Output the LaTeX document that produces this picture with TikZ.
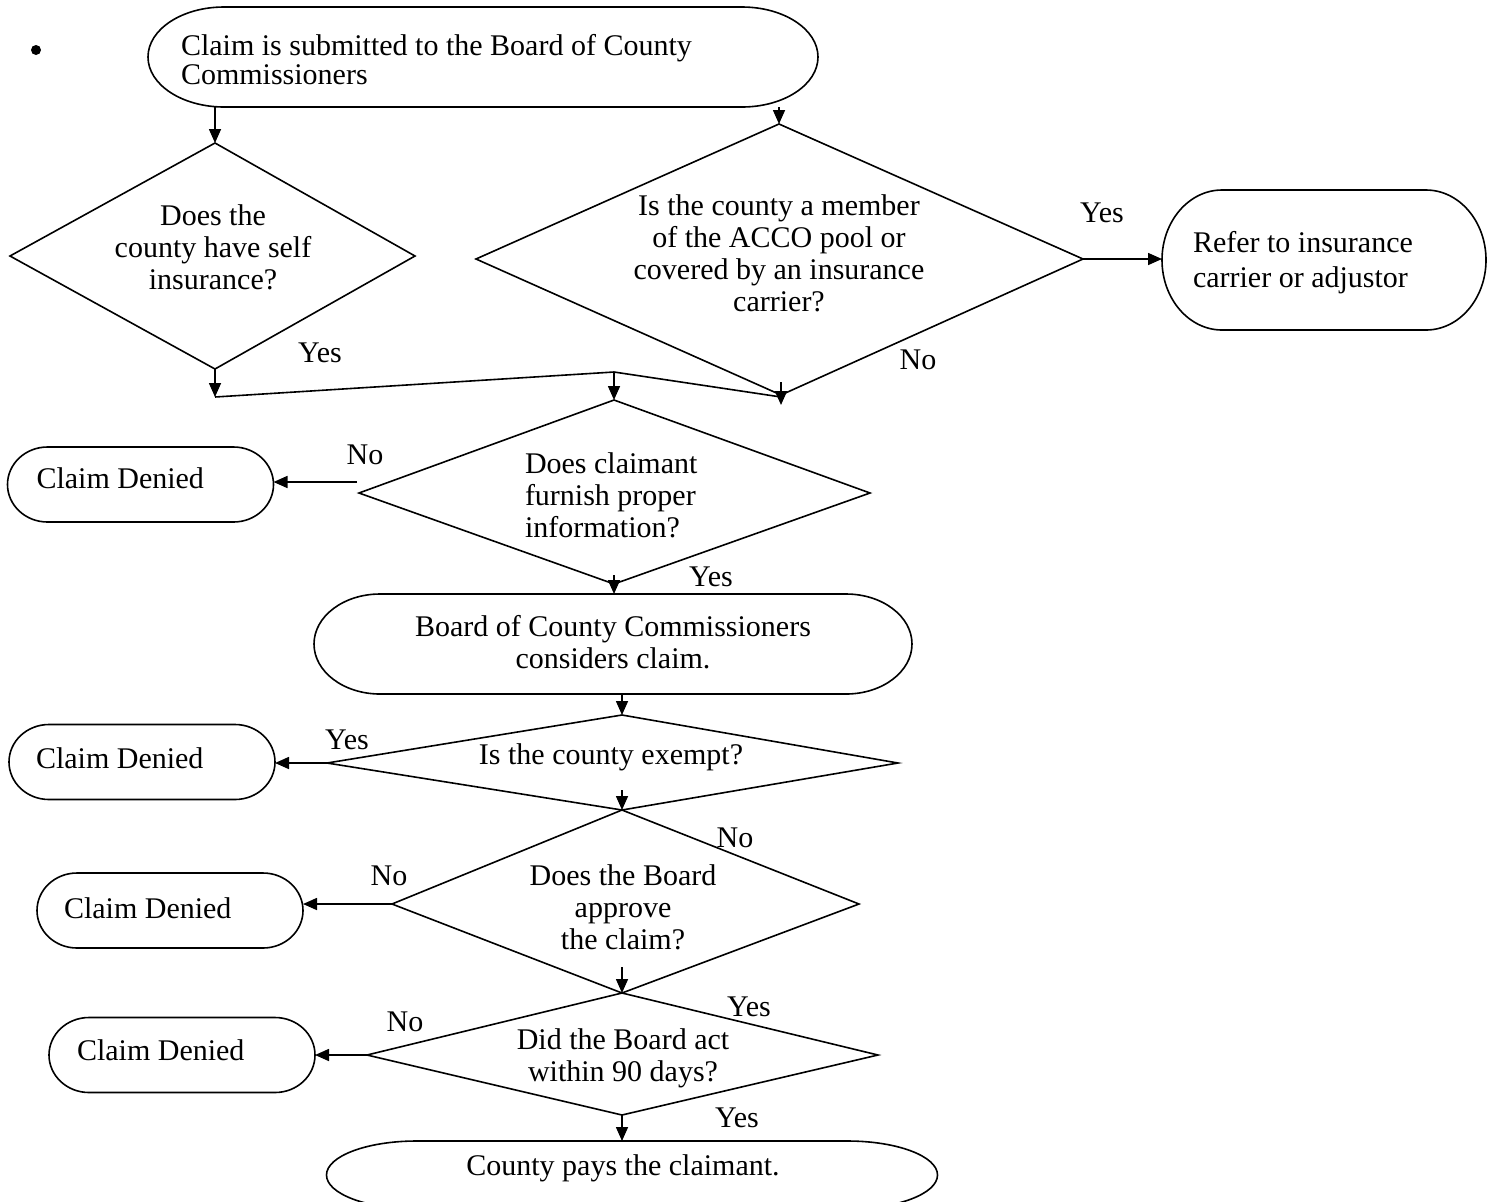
\documentclass[tikz,border=0pt]{standalone}
\usepackage{fontspec}
\setmainfont{Liberation Serif}
\usetikzlibrary{arrows.meta}
\newcommand\termoutline[3]{\draw ([xshift=-#2]#1.north east) arc[start angle=90,end angle=-90,x radius=#2,y radius=#3] -- ([xshift=#2]#1.south west) arc[start angle=270,end angle=90,x radius=#2,y radius=#3] -- cycle;}
\begin{document}
\begin{tikzpicture}[x=0.5pt,y=-0.5pt,line width=0.8pt,
  every node/.style={font=\fontsize{15}{16}\selectfont,inner sep=0pt,outer sep=0pt},
  tight/.style={font=\fontsize{15}{14.5}\selectfont},
  arr/.style={-{Triangle[length=7pt,width=6pt]}},
  cdbox/.style={minimum width=133pt,minimum height=37.5pt},
  lbl/.style={}]
\useasboundingbox (0,0) rectangle (1489,1201);
\clip (0,0) rectangle (1489,1201);
\fill[white] (0,0) rectangle (1489,1201);

% bullet
\fill (36,50) circle[radius=2.5pt];

% terminators
\node[minimum width=335pt,minimum height=50pt] (t0) at (483,57) {};
\termoutline{t0}{38pt}{25pt}
\node[tight,anchor=west,align=left] (t0txt) at (181,60) {Claim is submitted to the Board of County\\Commissioners};

\node[minimum width=162pt,minimum height=70pt] (refer) at (1324,260) {};
\termoutline{refer}{30pt}{35pt}
\node[anchor=west,align=left,font=\fontsize{15}{17.5}\selectfont] (refertxt) at ([xshift=15.5pt,yshift=-1.2pt]refer.west) {Refer to insurance\\carrier or adjustor};

\node[minimum width=299pt,minimum height=50pt] (board) at (613,644) {};
\termoutline{board}{33pt}{25pt}
\node[align=center] (boardtxt) at (613,642) {Board of County Commissioners\\considers claim.};

\node[cdbox] (cd1) at (140.5,484.5) {};
\termoutline{cd1}{20pt}{18.75pt}
\node[anchor=west] (cd1txt) at ([xshift=14.5pt,yshift=3pt]cd1.west) {Claim Denied};
\node[cdbox] (cd2) at (142,762) {};
\termoutline{cd2}{20pt}{18.75pt}
\node[anchor=west] (cd2txt) at ([xshift=13.5pt,yshift=2pt]cd2.west) {Claim Denied};
\node[cdbox] (cd3) at (170,910.5) {};
\termoutline{cd3}{20pt}{18.75pt}
\node[anchor=west] (cd3txt) at ([xshift=13.5pt,yshift=1.2pt]cd3.west) {Claim Denied};
\node[cdbox] (cd4) at (182,1055) {};
\termoutline{cd4}{20pt}{18.75pt}
\node[anchor=west] (cd4txt) at ([xshift=14pt,yshift=2.5pt]cd4.west) {Claim Denied};

\node[minimum width=305.5pt,minimum height=34pt] (pay) at (632,1175) {};
\termoutline{pay}{45pt}{17pt}
\node (paytxt) at (623,1168) {County pays the claimant.};

% diamond 1
\coordinate (d1t) at (215,143); \coordinate (d1l) at (10,256);
\coordinate (d1r) at (415,256); \coordinate (d1b) at (215,369);
\draw (d1t) -- (d1r) -- (d1b) -- (d1l) -- cycle;
\node[align=center] (d1) at (213,247) {Does the\\county have self\\insurance?};

% diamond 2
\coordinate (d2t) at (779,124); \coordinate (d2l) at (476,259);
\coordinate (d2r) at (1083,259); \coordinate (d2b) at (781,395);
\draw (d2t) -- (d2r) -- (d2b) -- (d2l) -- cycle;
\node[align=center] (d2) at (779,253) {Is the county a member\\of the ACCO pool or\\covered by an insurance\\carrier?};

% diamond 3
\coordinate (d3t) at (614,400); \coordinate (d3l) at (359,493);
\coordinate (d3r) at (870,493); \coordinate (d3b) at (614,584);
\draw (d3t) -- (d3r) -- (d3b) -- (d3l) -- cycle;
\node[align=left,anchor=west] (d3) at (525,495) {Does claimant\\furnish proper\\information?};

% diamond 4
\coordinate (d4t) at (622,715); \coordinate (d4l) at (327,763);
\coordinate (d4r) at (898,763); \coordinate (d4b) at (622,810);
\draw (d4t) -- (d4r) -- (d4b) -- (d4l) -- cycle;
\node (d4) at (611,757) {Is the county exempt?};

% diamond 5
\coordinate (d5l) at (392,904); \coordinate (d5r) at (859,904);
\coordinate (d5b) at (622,993);
\draw (d4b) -- (d5r) -- (d5b) -- (d5l) -- cycle;
\node[align=center] (d5) at (623,907) {Does the Board\\approve\\the claim?};

% diamond 6
\coordinate (d6l) at (367,1055); \coordinate (d6r) at (878,1055);
\coordinate (d6b) at (622,1115);
\draw (d5b) -- (d6r) -- (d6b) -- (d6l) -- cycle;
\node[align=center] (d6) at (623,1058) {Did the Board act\\within 90 days?};

% connectors
\draw[arr] (d1t |- t0.south) -- (d1t);
\draw[arr] (d2t |- t0.south) -- (d2t);
\coordinate (m1) at (215,397); \coordinate (m2) at (614,372); \coordinate (m3) at (781,397);
\draw[arr] (d1b) -- (m1);
\draw (m1) -- (m2) -- (m3);
\draw[arr] (m2) -- (d3t);
\coordinate (n1) at (781,382); \coordinate (n2) at (781,405);
\draw[arr] (n1) -- (n2);
\draw[arr] (d2r) -- (refer.west |- d2r);
\coordinate (d3a) at (357,482);
\draw[arr] (d3a) -- (cd1.east |- d3a);
\draw[arr] ([yshift=4.5pt]d3b) -- (board.north -| d3b);
\draw[arr] (board.south -| d4t) -- (d4t);
\draw[arr] (d4l) -- (cd2.east |- d4l);
\draw[arr] ([yshift=10pt]d4b) -- (d4b);
\draw[arr] (d5l) -- (cd3.east |- d5l);
\draw[arr] ([yshift=13pt]d5b) -- (d5b);
\draw[arr] (d6l) -- (cd4.east |- d6l);
\draw[arr] (d6b) -- (pay.north -| d6b);

% labels
\node[lbl] (y1) at (320,353) {Yes};
\node[lbl] (y2) at (1102,213) {Yes};
\node[lbl] (no1) at (918,360) {No};
\node[lbl] (no2) at (365,455) {No};
\node[lbl] (y3) at (711,577) {Yes};
\node[lbl] (y4) at (347,740) {Yes};
\node[lbl] (no3) at (735,838) {No};
\node[lbl] (no4) at (389,876) {No};
\node[lbl] (y5) at (749,1007) {Yes};
\node[lbl] (no5) at (405,1022) {No};
\node[lbl] (y6) at (737,1118) {Yes};
\end{tikzpicture}
\end{document}
